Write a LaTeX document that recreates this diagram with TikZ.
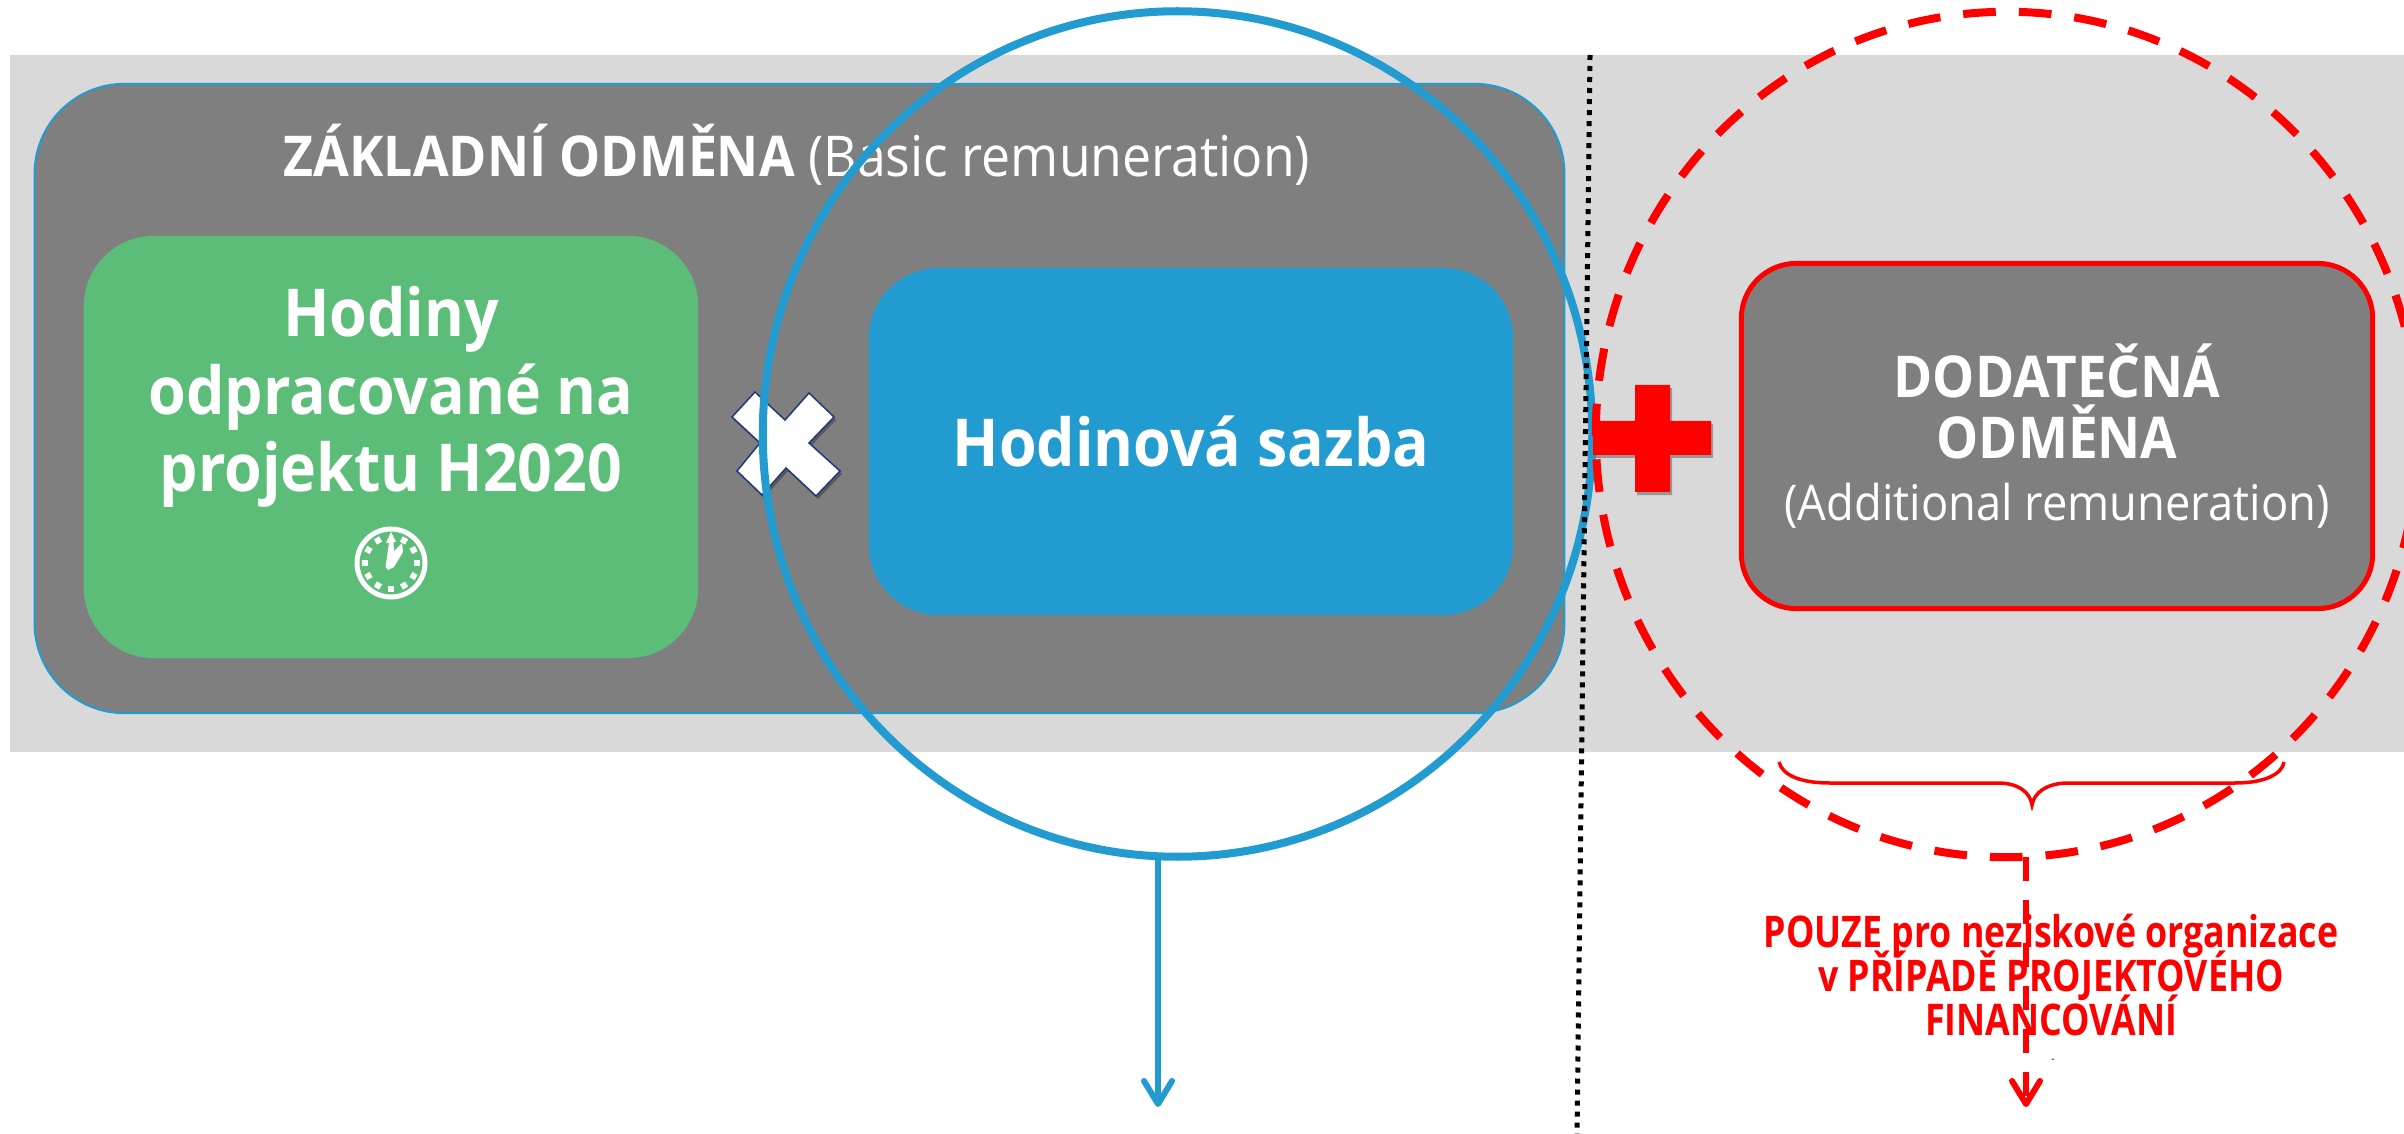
\documentclass[tikz,border=0pt]{standalone}
\usepackage{fontspec}
\setmainfont[FakeStretch=0.92]{Open Sans}
\newfontfamily\notefont[FakeStretch=0.82]{Open Sans}
\usetikzlibrary{arrows.meta,shapes.geometric,shadows}
\definecolor{bandgray}{HTML}{D9D9D9}
\definecolor{boxgray}{HTML}{7F7F7F}
\definecolor{hourgreen}{HTML}{5BBD78}
\definecolor{rateblue}{HTML}{229BD0}
\definecolor{crossnavy}{HTML}{1F3A7A}
\lineskiplimit=-20pt
\tikzset{
    softshadow/.style={drop shadow={shadow xshift=0.02cm,shadow yshift=-0.03cm,opacity=0.3,fill=black}},
    panel/.style={rectangle,rounded corners=0.7cm,inner sep=0pt,align=center,text=white},
    ringline/.style={ellipse,draw,inner sep=0pt,outer sep=0pt,minimum height=8.45cm},
    arrowline/.style={line width=0.06cm,-{Straight Barb[length=2.3mm,width=2.8mm,round]}},
}
\begin{document}
\begin{tikzpicture}[x=0.01cm,y=-0.01cm]
    \useasboundingbox (0,0) rectangle (2404,1134);
    \fill[bandgray] (10,55) rectangle (2404,752);
    % base pay
    \node[panel,fill=boxgray,draw=rateblue,line width=0.02cm,rounded corners=0.9cm,minimum width=15.29cm,minimum height=6.29cm] (basebox) at (799.5,398.5) {};
    \node[text=white,font=\fontsize{16}{20}\selectfont] (basetitle) at (797,155) {\textbf{ZÁKLADNÍ ODMĚNA} (Basic remuneration)};
    \node[panel,fill=hourgreen,minimum width=6.14cm,minimum height=4.22cm] (hoursbox) at (391,447) {};
    \node[text=white,align=center,font=\fontsize{18.8}{22}\selectfont\bfseries] (hourstext) at (391,397) {Hodiny\\odpracované na\\projektu H2020};
    \node[panel,fill=rateblue,minimum width=6.44cm,minimum height=3.47cm,font=\fontsize{18.8}{22}\selectfont\bfseries] (ratebox) at (1191,441.5) {Hodinová sazba};
    % clock
    \coordinate (clock) at (391,563);
    \draw[white,line width=0.05cm] (clock) circle[radius=34];
    \foreach \a in {30,60,...,330}
        \fill[white,shift={(clock)},rotate=\a] (-3,-29) rectangle (3,-23);
    \fill[white] (391,532) -- (396,542) -- (393.5,542) -- (394,551) -- (402,543) -- (403,552) -- (394,567) -- (388,570) -- (385.5,567) -- (389,543) -- (386,543) -- cycle;
    % multiply sign
    \path[fill=white,draw=crossnavy,line width=0.015cm,softshadow] (755,392) -- (785,420) -- (809,393) -- (834,417) -- (809,443) -- (840,471) -- (816,496) -- (786,468) -- (762,495) -- (737,471) -- (760,443) -- (732,417) -- cycle;
    \node[ringline,draw=rateblue,line width=0.08cm,minimum width=8.29cm] (bluering) at (1177.5,434) {};
    \coordinate (blueend) at (1158,1107);
    \draw[arrowline,rateblue] (blueend |- bluering.south) -- (blueend);
    % divider
    \coordinate (dividertop) at (1590,55);
    \coordinate (dividerbottom) at (1577,1134);
    \draw[black,line width=0.05cm,dash pattern=on 0.05cm off 0.06cm] (dividertop) -- (dividerbottom);
    % additional pay
    \path[fill=red,softshadow] (1635,385) -- (1670,385) -- (1670,421) -- (1711,421) -- (1711,455) -- (1670,455) -- (1670,492) -- (1635,492) -- (1635,455) -- (1593,455) -- (1593,421) -- (1635,421) -- cycle;
    \node[panel,fill=boxgray,draw=red,line width=0.05cm,rounded corners=0.55cm,minimum width=6.31cm,minimum height=3.45cm] (extrabox) at (2057,436) {};
    \node[text=white,align=center,font=\fontsize{16.4}{17.5}\selectfont] (extratext) at (2057,436) {\textbf{DODATEČNÁ}\\\textbf{ODMĚNA}\\\fontsize{14}{17.5}\selectfont(Additional remuneration)};
    \node[ringline,draw=red,line width=0.08cm,minimum width=8.22cm,dash pattern=on 0.327cm off 0.23cm,dash phase=0.024cm] (redring) at (2007,434.5) {};
    \node[text=red,align=center,font=\fontsize{12.4}{12.6}\notefont\bfseries] (onlynote) at (2051,975) {POUZE pro neziskové organizace\\v PŘÍPADĚ PROJEKTOVÉHO\\FINANCOVÁNÍ};
    \coordinate (redend) at (2026,1107);
    \draw[arrowline,red,dash pattern=on 0.24cm off 0.19cm] (redend |- redring.south) -- (redend);
    \draw[red,line width=0.035cm] (1779,762) .. controls (1782,774) and (1798,783) .. (1830,783) -- (1998,783) .. controls (2018,783) and (2030,792) .. (2032,805) .. controls (2034,792) and (2048,783) .. (2068,783) -- (2235,783) .. controls (2265,783) and (2282,774) .. (2284,762);
    \node[black,font=\fontsize{3}{3}\selectfont,inner sep=0pt] (tinymark) at (2053,1061) {-};
\end{tikzpicture}
\end{document}
